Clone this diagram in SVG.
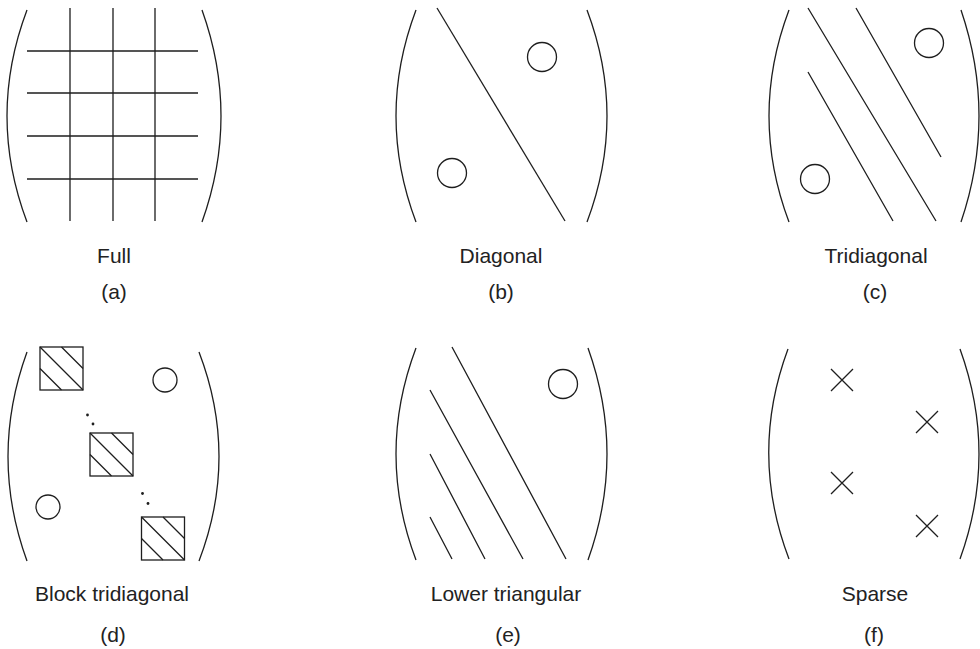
<svg xmlns="http://www.w3.org/2000/svg" xmlns:xlink="http://www.w3.org/1999/xlink" width="980" height="649" viewBox="0 0 980 649">
<style>
  .s{fill:none;stroke:#1e1e1e;stroke-width:1.3}
  .t{font-family:"Liberation Sans",Arial,Helvetica,sans-serif;font-size:21px;fill:#222;text-anchor:middle}
  .d{fill:#1e1e1e}
</style>
<defs>
  <g id="hbox" class="s">
    <rect x="0" y="0" width="43" height="43"/>
    <path d="M0,0 L43,43 M21.5,0 L43,21.5 M0,21.5 L21.5,43"/>
  </g>
</defs>
<rect width="980" height="649" fill="#fff"/>

<g id="panel-a">
  <path class="s" d="M27,10 Q-13,116 27,222 M202,10 Q240,116 202,222"/>
  <path class="s" d="M70,8 V221 M113,8 V221 M155,8 V221 M27,51 H198 M27,93 H198 M27,136 H198 M27,179 H198"/>
  <text class="t" x="114" y="263">Full</text>
  <text class="t" x="114" y="299">(a)</text>
</g>

<g id="panel-b">
  <path class="s" d="M416,10 Q376,116 416,222 M587,10 Q627,116 587,222"/>
  <path class="s" d="M437,8 L565,221"/>
  <circle class="s" cx="542" cy="57" r="14.5"/>
  <circle class="s" cx="452" cy="173" r="14.5"/>
  <text class="t" x="501" y="263">Diagonal</text>
  <text class="t" x="501" y="299">(b)</text>
</g>

<g id="panel-c">
  <path class="s" d="M789,10 Q749,116 789,222 M961,10 Q997,116 961,222"/>
  <path class="s" d="M808,8 L936,221 M856,8 L941,157 M808,72 L893,221"/>
  <circle class="s" cx="929" cy="43" r="14.5"/>
  <circle class="s" cx="815" cy="179" r="14.5"/>
  <text class="t" x="876" y="263">Tridiagonal</text>
  <text class="t" x="875" y="299">(c)</text>
</g>

<g id="panel-d">
  <path class="s" d="M27,352 Q-11,456.5 27,561 M199,352 Q239,456.5 199,561"/>
  <use xlink:href="#hbox" href="#hbox" x="40" y="347"/>
  <use xlink:href="#hbox" href="#hbox" x="90" y="433"/>
  <use xlink:href="#hbox" href="#hbox" x="141.5" y="517"/>
  <circle class="d" cx="87.5" cy="415" r="1.4"/>
  <circle class="d" cx="93" cy="424" r="1.4"/>
  <circle class="d" cx="142.5" cy="493.5" r="1.4"/>
  <circle class="d" cx="148" cy="503.5" r="1.4"/>
  <circle class="s" cx="165" cy="380" r="12"/>
  <circle class="s" cx="48" cy="507" r="12"/>
  <text class="t" x="112" y="601">Block tridiagonal</text>
  <text class="t" x="113" y="642">(d)</text>
</g>

<g id="panel-e">
  <path class="s" d="M416,348 Q376,454 416,560 M588,348 Q626,454 588,560"/>
  <path class="s" d="M452,347 L566,559 M430,390 L523,559 M430,454 L485,559 M430,517 L452,559"/>
  <circle class="s" cx="563" cy="384" r="14.5"/>
  <text class="t" x="506" y="601">Lower triangular</text>
  <text class="t" x="508" y="642">(e)</text>
</g>

<g id="panel-f">
  <path class="s" d="M788,349 Q749,454 789,559 M960,349 Q998,454 960,559"/>
  <path class="s" d="M831,369 L853,391 M853,369 L831,391 M916,411 L938,433 M938,411 L916,433 M831,472 L853,494 M853,472 L831,494 M916,515 L938,537 M938,515 L916,537"/>
  <text class="t" x="875" y="601">Sparse</text>
  <text class="t" x="874" y="642">(f)</text>
</g>
</svg>
